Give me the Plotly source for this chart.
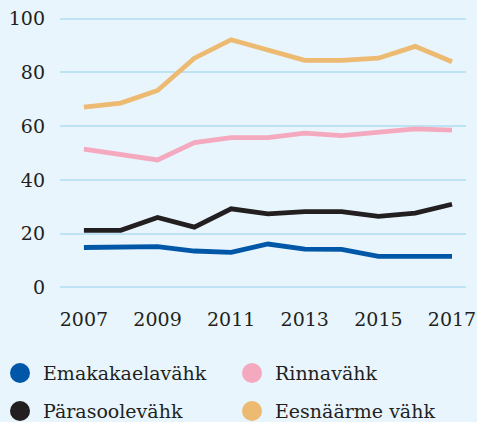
import plotly.graph_objects as go

years = list(range(2007, 2018))
emakakaela = [14.8, 14.8, 15.1, 13.5, 13.0, 16.1, 14.2, 14.1, 11.5, 11.5, 11.5]
rinna = [51.4, 49.6, 47.4, 53.9, 55.7, 55.7, 57.4, 56.5, 57.8, 59.0, 58.5]
parasoole = [21.2, 21.2, 26.0, 22.4, 29.2, 27.3, 28.2, 28.2, 26.4, 27.6, 30.9]
eesnaarme = [67.1, 68.6, 73.3, 85.3, 92.2, 88.2, 84.5, 84.5, 85.3, 89.7, 84.0]
x_ticks = [2007, 2009, 2011, 2013, 2015, 2017]
y_ticks = [0, 20, 40, 60, 80, 100]

names = ["Emakakaelavähk", "Rinnavähk", "Pärasoolevähk", "Eesnäärme vähk"]
series = [emakakaela, rinna, parasoole, eesnaarme]
colors = ["#0057A8", "#F5A9BF", "#231F20", "#EDBA72"]
draw_order = [3, 1, 2, 0]

W, H = 477, 422
L, R, T, B = 60, 11, 8, 124
pw, ph = W - L - R, H - T - B

def px_to_paper(px, py):
    return (px - L) / pw, (H - B - py) / ph

fig = go.Figure()
for i in draw_order:
    fig.add_trace(go.Scatter(x=years, y=series[i], mode="lines", name=names[i],
                             line=dict(color=colors[i], width=4.8),
                             showlegend=False, hoverinfo="skip"))

font = "DejaVu Serif"
# Manual legend (2 columns x 2 rows)
legend_cols = [20, 252]
legend_rows = [373, 411]
shapes, annots = [], []
for k, nm in enumerate(names):
    cx = legend_cols[k % 2]
    cy = legend_rows[k // 2]
    xp, yp = px_to_paper(cx, cy)
    shapes.append(dict(type="circle", xref="paper", yref="paper",
                       xsizemode="pixel", ysizemode="pixel",
                       xanchor=xp, yanchor=yp, x0=-10, x1=10, y0=-10, y1=10,
                       fillcolor=colors[k], line=dict(width=0)))
    tx, ty = px_to_paper(cx + 21, cy)
    annots.append(dict(text=nm, xref="paper", yref="paper", x=tx, y=ty,
                       xanchor="left", yanchor="middle", showarrow=False,
                       font=dict(family=font, size=19, color="#231F20")))

fig.update_layout(
    width=W, height=H,
    margin=dict(l=L, r=R, t=T, b=B),
    paper_bgcolor="#E8F5FD", plot_bgcolor="#E8F5FD",
    font=dict(family=font, size=19, color="#231F20"),
    showlegend=False,
    shapes=shapes, annotations=annots,
    xaxis=dict(range=[2006.35, 2017.38], tickvals=x_ticks,
               showgrid=False, zeroline=False, showline=False, ticks="",
               ticklabelstandoff=8, fixedrange=True, automargin=False),
    yaxis=dict(range=[-4, 104], tickvals=y_ticks,
               showgrid=True, gridcolor="#BDE3F5", gridwidth=1.5,
               zeroline=False, showline=False, ticks="", ticklabelstandoff=14,
               fixedrange=True, automargin=False),
)
fig.write_html("out.html", config={"displayModeBar": False},
               post_script="document.body.style.margin='0';")
